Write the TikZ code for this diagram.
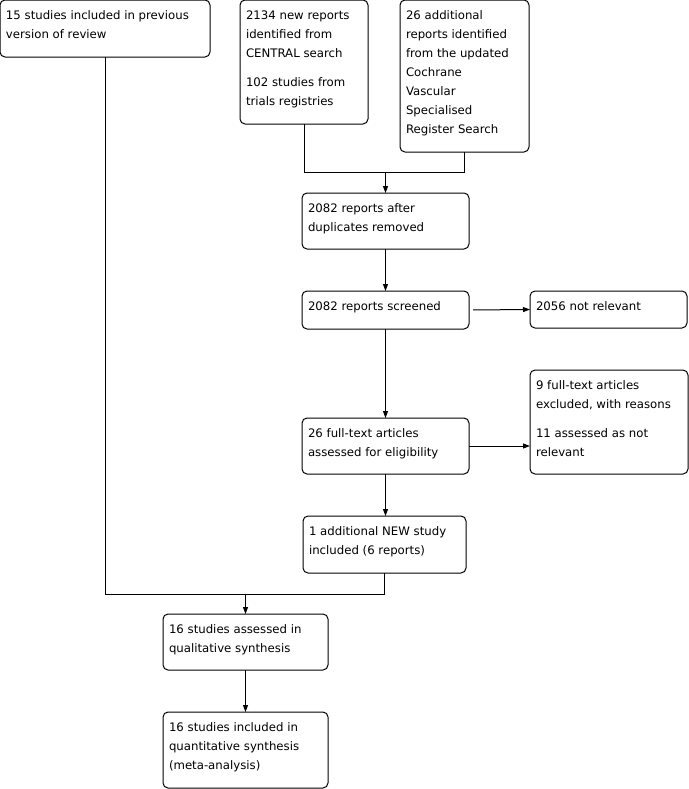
\documentclass[tikz,border=0pt]{standalone}
\usepackage{fontspec}
\setmainfont{DejaVu Sans}
\usetikzlibrary{arrows.meta, positioning, calc}
\newlength{\px}\setlength{\px}{0.75pt}
\newcommand{\flowtext}[3]{\parbox[t][#2\px][t]{\dimexpr#1\px-12\px\relax}{\raggedright\fontsize{8.8pt}{14.25pt}\selectfont\vspace*{5pt}\strut #3}}
\newcommand{\gap}{\par\vspace{10\px}}
\tikzset{
  flowbox/.style={draw, line width=0.75pt, rounded corners=3.75pt, inner xsep=4.5pt,
                  inner ysep=0pt, outer sep=0pt, anchor=north west},
  flowline/.style={line width=0.75pt},
  flowarr/.style={-{Triangle[length=5.25pt, width=3.75pt]}, line width=0.75pt},
}
\begin{document}
\begin{tikzpicture}[x=0.75pt, y=-0.75pt]
  \useasboundingbox (0,0) rectangle (689,789);
  % Sources
  \node[flowbox] (prev) at (0,0) {\flowtext{210}{57}{15 studies included in previous\\version of review}};
  \node[flowbox] (central) at (240,0) {\flowtext{128}{124}{2134 new reports\\identified from\\CENTRAL search\gap 102 studies from\\trials registries}};
  \node[flowbox] (cochrane) at (400,0) {\flowtext{129}{152}{26 additional\\reports identified\\from the updated\\Cochrane\\Vascular\\Specialised\\Register Search}};

  % Screening
  \node[flowbox] (dupl) at (302,193) {\flowtext{167}{56}{2082 reports after\\duplicates removed}};
  \node[flowbox] (screened) at (302,291) {\flowtext{167}{38}{2082 reports screened}};
  \node[flowbox] (notrel) at (530,291) {\flowtext{157}{37}{2056 not relevant}};
  \node[flowbox] (fulltext) at (302,418) {\flowtext{167}{56}{26 full-text articles\\assessed for eligibility}};
  \node[flowbox] (excl) at (530,370) {\flowtext{158}{104}{9 full-text articles\\excluded, with reasons\gap 11 assessed as not\\relevant}};
  \node[flowbox] (newstudy) at (303,516) {\flowtext{163}{57}{1 additional NEW study\\included (6 reports)}};

  % Included
  \node[flowbox] (qual) at (163,614) {\flowtext{165}{56}{16 studies assessed in\\qualitative synthesis}};
  \node[flowbox] (quant) at (163,712) {\flowtext{165}{76}{16 studies included in\\quantitative synthesis\\(meta-analysis)}};

  % Connectors
  \coordinate (merge) at (dupl.north |- 0,172);
  \coordinate (join) at (qual.north |- 0,594);
  \draw[flowline] (central.south) |- (merge);
  \draw[flowline] (cochrane.south) |- (merge);
  \draw[flowarr] (merge) -- (dupl.north);
  \draw[flowarr] (dupl.south) -- (screened.north);
  \draw[flowarr, shorten <=3pt] (screened.east) -- (notrel.west);
  \draw[flowarr] (screened.south) -- (fulltext.north);
  \draw[flowarr] (fulltext.east) -- (fulltext.east -| excl.west);
  \draw[flowarr] (fulltext.south) -- (fulltext.south |- newstudy.north);
  \draw[flowline] (prev.south) |- (newstudy.south |- join) -- (newstudy.south);
  \draw[flowarr] (join) -- (qual.north);
  \draw[flowarr] (qual.south) -- (quant.north);
\end{tikzpicture}
\end{document}
